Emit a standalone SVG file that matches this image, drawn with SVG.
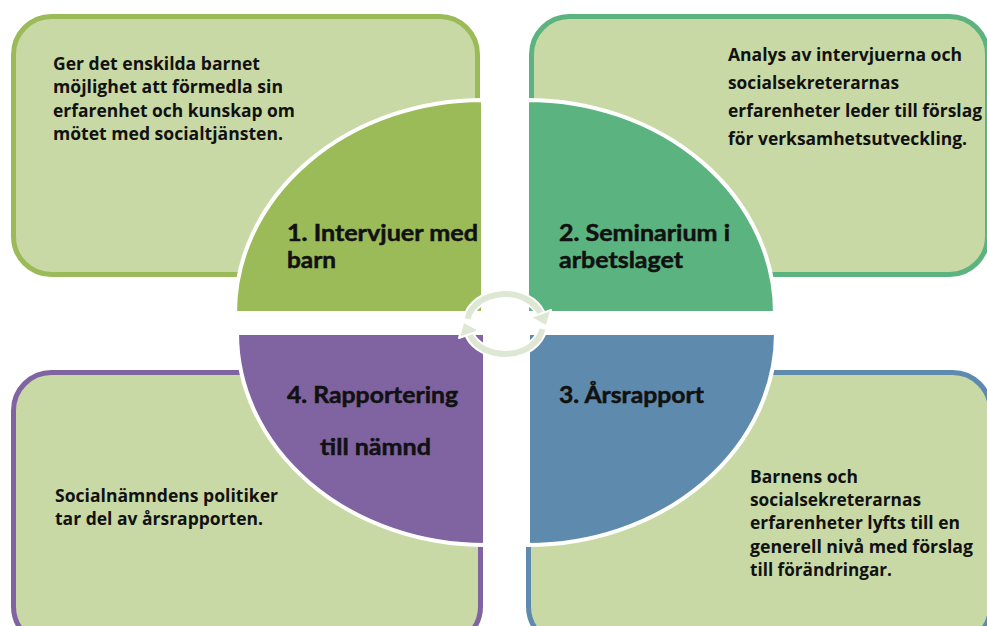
<svg xmlns="http://www.w3.org/2000/svg" width="987" height="626" viewBox="0 0 987 626">
<style>
.box{fill:#C9D9A5;stroke-width:5}
.q{stroke:#FFFFFF;stroke-width:4}
.t{font-family:"Open Sans",Lato,"Liberation Sans",sans-serif;font-weight:700;font-size:17px;fill:#111111}
.l{font-family:Lato,"Open Sans","Liberation Sans",sans-serif;font-weight:700;font-size:23px;fill:#111111;stroke:#111111;stroke-width:0.5}
.ringw{fill:none;stroke:#FFFFFF;stroke-width:10}
.ring{fill:none;stroke:#DEE7D3;stroke-width:6}
.head{fill:#DEE7D3;stroke:#FFFFFF;stroke-width:2;stroke-linejoin:round}
</style>
<rect width="987" height="626" fill="#FFFFFF"/>
<g id="node1">
<rect class="box" x="13.5" y="16.5" width="464" height="258" rx="38" stroke="#9BBB59"/>
<path class="q" d="M483,313 L235,313 A248,213 0 0 1 483,100 Z" fill="#9BBB59"/>
<text class="t" x="53" y="70" textLength="207" lengthAdjust="spacingAndGlyphs">Ger det enskilda barnet</text>
<text class="t" x="53" y="93" textLength="230" lengthAdjust="spacingAndGlyphs">möjlighet att förmedla sin</text>
<text class="t" x="53" y="117" textLength="242" lengthAdjust="spacingAndGlyphs">erfarenhet och kunskap om</text>
<text class="t" x="53" y="140" textLength="230" lengthAdjust="spacingAndGlyphs">mötet med socialtjänsten.</text>
<text class="l" x="287" y="241" textLength="191" lengthAdjust="spacingAndGlyphs">1. Intervjuer med</text>
<text class="l" x="287" y="268" textLength="49" lengthAdjust="spacingAndGlyphs">barn</text>
</g>
<g id="node2">
<rect class="box" x="531.5" y="16.5" width="456" height="258" rx="38" stroke="#5BB37F"/>
<path class="q" d="M527,313 L775,313 A248,213 0 0 0 527,100 Z" fill="#5BB37F"/>
<text class="t" x="728" y="61" textLength="234" lengthAdjust="spacingAndGlyphs">Analys av intervjuerna och</text>
<text class="t" x="728" y="89" textLength="171" lengthAdjust="spacingAndGlyphs">socialsekreterarnas</text>
<text class="t" x="728" y="117" textLength="254" lengthAdjust="spacingAndGlyphs">erfarenheter leder till förslag</text>
<text class="t" x="728" y="145" textLength="239" lengthAdjust="spacingAndGlyphs">för verksamhetsutveckling.</text>
<text class="l" x="559" y="241" textLength="171" lengthAdjust="spacingAndGlyphs">2. Seminarium i</text>
<text class="l" x="559" y="268" textLength="124" lengthAdjust="spacingAndGlyphs">arbetslaget</text>
</g>
<g id="node3">
<rect class="box" x="528.5" y="372.5" width="462" height="272" rx="38" stroke="#5E8BAD"/>
<path class="q" d="M528,333 L776,333 A248,212 0 0 1 528,545 Z" fill="#5E8BAD"/>
<text class="l" x="559" y="403" textLength="145" lengthAdjust="spacingAndGlyphs">3. Årsrapport</text>
<text class="t" x="750" y="483" textLength="108" lengthAdjust="spacingAndGlyphs">Barnens och</text>
<text class="t" x="750" y="506" textLength="171" lengthAdjust="spacingAndGlyphs">socialsekreterarnas</text>
<text class="t" x="750" y="529" textLength="210" lengthAdjust="spacingAndGlyphs">erfarenheter lyfts till en</text>
<text class="t" x="750" y="553" textLength="223" lengthAdjust="spacingAndGlyphs">generell nivå med förslag</text>
<text class="t" x="750" y="576" textLength="142" lengthAdjust="spacingAndGlyphs">till förändringar.</text>
</g>
<g id="node4">
<rect class="box" x="13.5" y="372.5" width="467" height="272" rx="38" stroke="#8064A2"/>
<path class="q" d="M485,333 L237,333 A248,212 0 0 0 485,545 Z" fill="#8064A2"/>
<text class="l" x="287" y="403" textLength="171" lengthAdjust="spacingAndGlyphs">4. Rapportering</text>
<text class="l" x="320" y="455" textLength="111" lengthAdjust="spacingAndGlyphs">till nämnd</text>
<text class="t" x="55" y="502" textLength="223" lengthAdjust="spacingAndGlyphs">Socialnämndens politiker</text>
<text class="t" x="55" y="525" textLength="208" lengthAdjust="spacingAndGlyphs">tar del av årsrapporten.</text>
</g>
<g id="connectors">
<path class="ringw" d="M467.6,318.8 A38,30 0 0 1 540.7,313.7"/>
<path class="ringw" d="M542.4,329.2 A38,30 0 0 1 469.3,334.3"/>
<path class="ring" d="M467.6,318.8 A38,30 0 0 1 540.7,313.7"/>
<path class="ring" d="M542.4,329.2 A38,30 0 0 1 469.3,334.3"/>
<polygon class="head" points="551,310 530.4,317.4 546.6,326.4"/>
<polygon class="head" points="459,338 479.6,330.6 463.4,321.6"/>
</g>
</svg>
